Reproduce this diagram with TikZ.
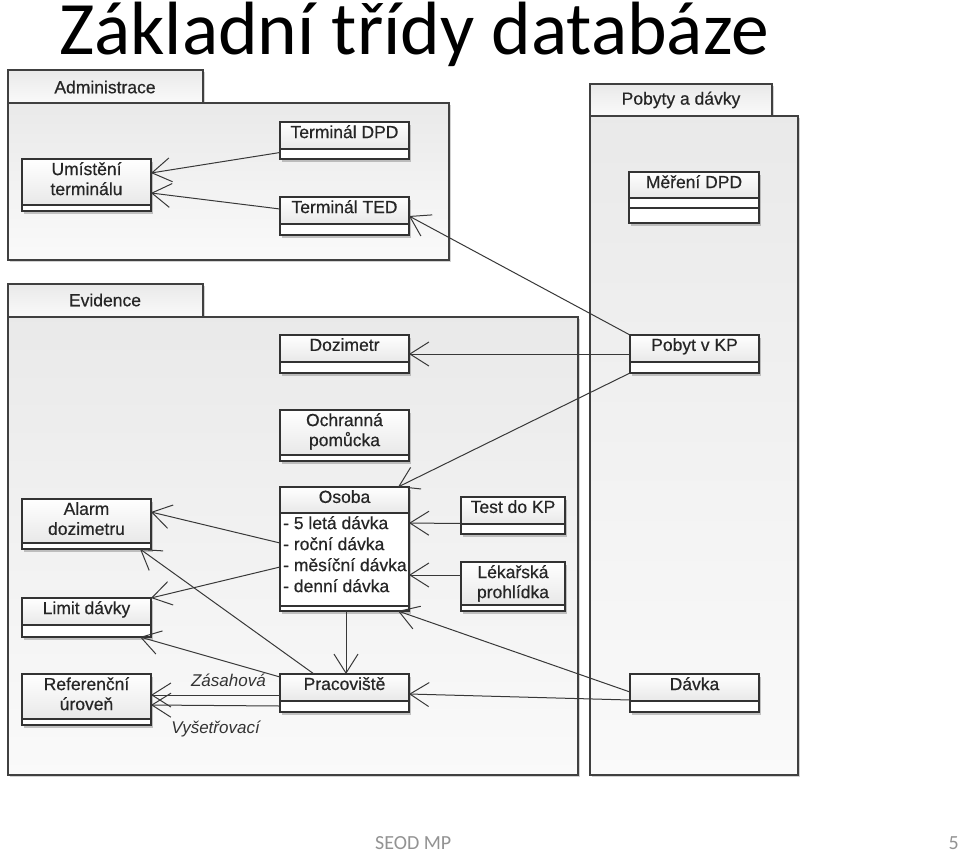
\documentclass[tikz,border=0pt]{standalone}
\usepackage{fontspec}
\setmainfont{Liberation Sans}
\newfontfamily\dfont[FakeBold=0.5]{Liberation Sans}
\newfontfamily\calibfont{Carlito}
\usetikzlibrary{arrows.meta,calc,shadows}
\tikzset{
  pkg/.style={draw=black!75, line width=1.2pt, top color=gray!17, bottom color=gray!4,
    drop shadow={shadow xshift=2pt, shadow yshift=-2pt, opacity=0.35}},
  pkgtext/.style={font=\dfont\fontsize{17.5}{20}\selectfont, text=black!85, inner sep=0},
  clsbox/.style={draw=black!80, line width=1.3pt, fill=white, inner sep=0, outer sep=0,
    drop shadow={shadow xshift=2pt, shadow yshift=-2.5pt, opacity=0.45}},
  clsline/.style={draw=black!80, line width=1.1pt},
  clsborder/.style={draw=black!80, line width=1.3pt},
  clstext/.style={anchor=north, inner sep=0, align=center, yshift=-3pt,
    font=\dfont\fontsize{17.5}{20}\selectfont, text=black!85},
  arr/.style={draw=black!78, line width=1pt, -{Straight Barb[length=19pt,width=24pt]}},
  lbl/.style={font=\fontsize{17}{19}\selectfont\itshape, text=black!80, inner sep=0},
}
% name, x1, y1, x2, y2, first divider, further dividers, text
\newcommand\umlc[8]{%
  \node[clsbox, minimum width={#4-#2}, minimum height={#5-#3}] (#1) at ({(#2+#4)/2},{(#3+#5)/2}) {};
  \shade[top color=white, bottom color=gray!18] (#2,#3) rectangle (#4,#6);
  \draw[clsline] (#2,#6) -- (#4,#6);
  \foreach \dd in {#7} {\draw[clsline] (#2,\dd) -- (#4,\dd);}
  \draw[clsborder] (#1.north west) rectangle (#1.south east);
  \node[clstext] (#1-t) at ({(#2+#4)/2},#3) {#8};
}
\begin{document}
\begin{tikzpicture}[x=1pt, y=-1pt]
\useasboundingbox (0,0) rectangle (960,854);
\fill[white] (0,0) rectangle (960,854);

% title and footer
\node[anchor=base west, inner sep=0, font=\calibfont\fontsize{75.5}{80}\selectfont] (title) at (59,54) {Základní třídy databáze};
\node[anchor=base west, inner sep=0, font=\calibfont\fontsize{20}{24}\selectfont, text=gray!85] (foot) at (375,849) {SEOD MP};
\node[anchor=base east, inner sep=0, font=\calibfont\fontsize{20}{24}\selectfont, text=gray!85] (pnum) at (959,849) {5};

% packages
\draw[pkg] (8,70) rectangle (203,103);
\draw[pkg] (8,103) rectangle (449,260);
\node[pkgtext] (padm) at (105,87) {Administrace};

\draw[pkg] (8,284) rectangle (203,317);
\draw[pkg] (8,317) rectangle (578,775);
\node[pkgtext] (pevi) at (105,300) {Evidence};

\draw[pkg] (590,84) rectangle (772,116);
\draw[pkg] (590,116) rectangle (798,775);
\node[pkgtext] (ppob) at (681,100) {Pobyty a dávky};

% classes
\umlc{tdpd}{280}{122}{409}{159}{149}{149}{Terminál DPD}
\umlc{tted}{280}{197}{409}{235}{224}{224}{Terminál TED}
\umlc{umist}{22}{159}{151}{211}{205}{205}{Umístění\\terminálu}
\umlc{mereni}{629}{172}{759}{223}{198}{208}{Měření DPD}
\umlc{pobyt}{630}{335}{759}{373}{362}{362}{Pobyt v KP}
\umlc{dozim}{280}{335}{409}{373}{362}{362}{Dozimetr}
\umlc{ochr}{280}{410}{409}{461}{455}{455}{Ochranná\\pomůcka}
\umlc{osoba}{280}{487}{409}{611}{513}{606}{Osoba}
\node[anchor=north west, inner sep=0, align=left, font=\dfont\fontsize{17.5}{21}\selectfont, text=black!85] (osoba-a) at (283,516) {- 5 letá dávka\\- roční dávka\\- měsíční dávka\\- denní dávka};
\umlc{test}{461}{497}{565}{534}{524}{524}{Test do KP}
\umlc{lekar}{461}{562}{565}{611}{605}{605}{Lékařská\\prohlídka}
\umlc{alarm}{22}{499}{151}{549}{543}{543}{Alarm\\dozimetru}
\umlc{limit}{22}{598}{151}{637}{625}{625}{Limit dávky}
\umlc{refer}{22}{674}{151}{725}{719}{719}{Referenční\\úroveň}
\umlc{prac}{280}{674}{409}{712}{701}{701}{Pracoviště}
\umlc{davka}{630}{674}{759}{712}{701}{701}{Dávka}

% connectors
\draw[arr] ($(tdpd.west)+(0,12)$) -- ($(umist.east)+(0,-12)$);
\draw[arr] ($(tted.west)+(0,-7)$) -- ($(umist.east)+(0,8)$);
\draw[arr] (pobyt.north west) -- (tted.east);
\draw[arr] (pobyt.west) -- (dozim.east);
\draw[arr] (pobyt.south west) -- ($(osoba.north east)+(-11,0)$);
\draw[arr] ($(osoba.west)+(0,-6)$) -- ($(alarm.east)+(0,-12)$);
\draw[arr] ($(osoba.west)+(0,18)$) -- (limit.north east);
\draw[arr] ($(test.west)+(0,8)$) -- ($(osoba.east)+(0,-26)$);
\draw[arr] ($(lekar.west)+(0,-11.5)$) -- ($(osoba.east)+(0,26)$);
\draw[arr] ($(osoba.south)+(1.5,0)$) -- ($(prac.north)+(1.5,0)$);
\draw[arr] ($(prac.north west)+(34,0)$) -- ($(alarm.south east)+(-11,0)$);
\draw[arr] ($(prac.north west)+(0,3)$) -- ($(limit.south east)+(-11,0)$);
\draw[arr] ($(prac.west)+(0,2)$) -- node[lbl, pos=0.4, above=8pt] (lzas) {Zásahová} ($(refer.east)+(0,-4.5)$);
\draw[arr] ($(prac.west)+(0,13)$) -- node[lbl, pos=0.5, below=15pt] (lvys) {Vyšetřovací} ($(refer.east)+(0,5.5)$);
\draw[arr] ($(davka.west)+(0,7)$) -- ($(prac.east)+(0,1)$);
\draw[arr] ($(davka.west)+(0,-1)$) -- ($(osoba.south east)+(-11,0)$);
\end{tikzpicture}
\end{document}
